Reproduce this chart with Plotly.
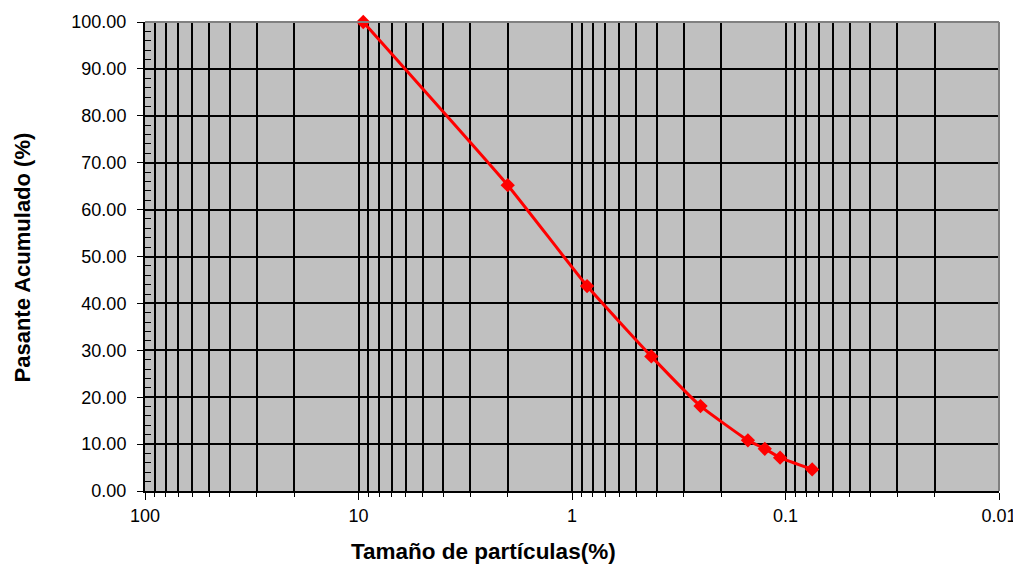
import plotly.graph_objects as go

# Data
particle_size = [9.5, 2.0, 0.85, 0.425, 0.25, 0.15, 0.125, 0.106, 0.075]
passing_pct = [100.0, 65.2, 43.7, 28.7, 18.1, 10.8, 9.0, 7.1, 4.6]

x_major_vals = [100, 10, 1, 0.1, 0.01]
x_major_text = ["100", "10", "1", "0.1", "0.01"]
x_minor_vals = [m * d for d in [10, 1, 0.1, 0.01] for m in range(2, 10)]

x_title = "Tamaño de partículas(%)"
y_title = "Pasante Acumulado (%)"

FONT = "Liberation Sans, Arial, sans-serif"

fig = go.Figure()
fig.add_trace(go.Scatter(
    x=particle_size, y=passing_pct,
    mode="lines+markers",
    line=dict(color="#FF0000", width=3, shape="spline", smoothing=0.4),
    marker=dict(symbol="diamond", size=11, color="#FF0000"),
    showlegend=False,
    hoverinfo="x+y",
    cliponaxis=False,
))

fig.update_layout(
    width=1021, height=577,
    margin=dict(l=137, r=30, t=14, b=94),
    paper_bgcolor="white",
    plot_bgcolor="#C0C0C0",
    font=dict(family=FONT, size=18, color="black"),
    xaxis=dict(
        type="log",
        range=[2, -2],
        autorange=False,
        automargin=False,
        tickmode="array",
        tickvals=x_major_vals,
        ticktext=x_major_text,
        ticks="outside", ticklen=7, tickwidth=1, tickcolor="black",
        showgrid=True, gridcolor="black", gridwidth=2,
        showline=True, linecolor="black", linewidth=2,
        zeroline=False,
        minor=dict(tickmode="array", tickvals=x_minor_vals, ticks="outside",
                   ticklen=4, tickcolor="black", showgrid=True,
                   gridcolor="black", gridwidth=2),
        tickfont=dict(family=FONT, size=18),
    ),
    yaxis=dict(
        range=[0, 100],
        autorange=False,
        automargin=False,
        tick0=0, dtick=10,
        tickformat=".2f",
        ticks="outside", ticklen=6, tickcolor="black",
        ticklabelstandoff=7,
        showgrid=True, gridcolor="black", gridwidth=2,
        showline=True, linecolor="black", linewidth=2,
        zeroline=False,
        minor=dict(dtick=2, ticks="inside", ticklen=6, tickcolor="black",
                   showgrid=False),
        tickfont=dict(family=FONT, size=18),
    ),
    shapes=[
        dict(type="line", xref="paper", yref="paper", x0=0, x1=1, y0=1, y1=1,
             line=dict(color="#808080", width=2)),
        dict(type="line", xref="paper", yref="paper", x0=1, x1=1, y0=0, y1=1,
             line=dict(color="#808080", width=2)),
    ],
    annotations=[
        dict(text=f"<b>{x_title}</b>", xref="paper", yref="paper",
             x=0.3964, y=-0.13, xanchor="center", yanchor="middle",
             showarrow=False, font=dict(family=FONT, size=22.5)),
        dict(text=f"<b>{y_title}</b>", xref="paper", yref="paper",
             x=-0.144, y=0.498, xanchor="center", yanchor="middle",
             textangle=-90, showarrow=False, font=dict(family=FONT, size=22)),
    ],
)

fig.write_html("out.html")
